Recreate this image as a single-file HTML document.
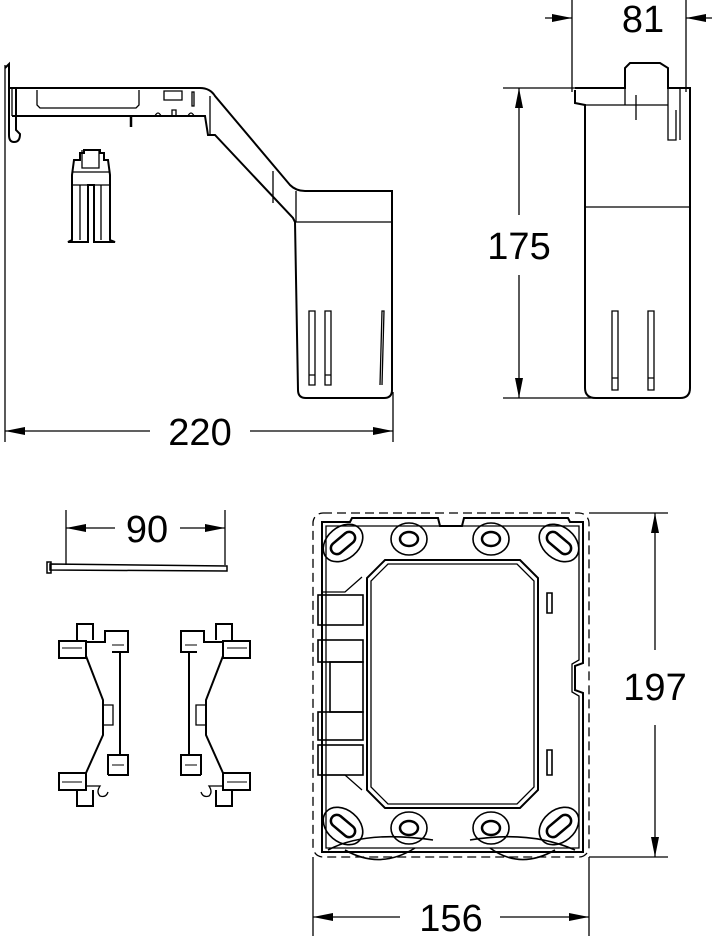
<!DOCTYPE html>
<html><head><meta charset="utf-8"><style>
html,body{margin:0;padding:0;background:#fff;}
svg{display:block}
text{font-family:"Liberation Sans",sans-serif;fill:#000}
</style></head><body>
<svg width="720" height="936" viewBox="0 0 720 936" xmlns="http://www.w3.org/2000/svg">
<defs>
<marker id="a" viewBox="0 0 20 8" refX="20" refY="4" markerWidth="20" markerHeight="8" markerUnits="userSpaceOnUse" orient="auto"><path d="M0,0 L20,4 L0,8 Z" fill="#000"/></marker>
</defs>
<g fill="none" stroke="#000" stroke-width="1.3">
<line x1="5" y1="65" x2="5" y2="442"/>
<line x1="393" y1="392" x2="393" y2="442"/>
<path d="M5,68 L9,64 L9,135 Q9,142 14,142 Q20,142 20,134 L16,130 L16,87" stroke-width="2"/>
<path d="M12,87 L12,116"/>
<path d="M10,88 L200,88 Q210,88 215,96 L290,185 Q296,191 305,191 L392,191 L392,390 Q392,398 384,398 L306,398 Q298,398 298,390 L295,222 L293,218 L215,135 L208,135 L205,116 L12,116" stroke-width="2"/>
<path d="M296,191 L296,222 L392,222"/>
<path d="M273,171 L273,203"/>
<path d="M210,96 L210,135"/>
<path d="M37,90 L37,105 L40,108 L136,108 L139,105 L139,90"/>
<path d="M164,91 L182,91 L182,100 L164,100 Z"/>
<path d="M131,116 L131,127" stroke-width="2.5"/>
<path d="M155,116 Q158,110 161,116 M172,116 L172,110 L176,110 L176,116 M188,116 Q191,110 194,116"/>
<rect x="192" y="92" width="2" height="14"/>
<path d="M309,385 L309,311 L315,311 L315,385 Z M325,385 L325,311 L331,311 L331,385 Z M380,385 L382,311 L384,311 L382,385"/>
<path d="M309,375 L315,375 M325,375 L331,375"/>
<!-- small part -->
<path d="M68,242 L72,240 L72,175 L74,160 L80,160 L80,153 L84,153 L84,150 L100,150 L100,153 L104,153 L104,160 L108,160 L110,175 L110,240 L115,242 L94,242 L94,185 L88,185 L88,242 Z" stroke-width="2"/>
<path d="M73,172 L109,172 M80,185 L80,240 M101,185 L101,240 M82,150 L82,168 L99,168 L99,150 M73,185 L109,185"/>
<line x1="150" y1="431" x2="5" y2="431" marker-end="url(#a)"/>
<line x1="250" y1="431" x2="393" y2="431" marker-end="url(#a)"/>

<line x1="572" y1="0" x2="572" y2="92"/>
<line x1="686" y1="0" x2="686" y2="92"/>
<line x1="545" y1="18" x2="572" y2="18" marker-end="url(#a)"/>
<line x1="712" y1="18" x2="686" y2="18" marker-end="url(#a)"/>
<line x1="503" y1="88" x2="575" y2="88"/>
<line x1="503" y1="398" x2="600" y2="398"/>
<line x1="519" y1="215" x2="519" y2="88" marker-end="url(#a)"/>
<line x1="519" y1="275" x2="519" y2="398" marker-end="url(#a)"/>
<path d="M575,90 L575,103 L585,105 L585,388 Q585,398 596,398 L680,398 Q690,398 690,388 L690,105 L690,88 L668,88 L668,68 L660,63 L630,63 L625,68 L625,88 L575,88" stroke-width="2"/>
<path d="M585,105 L668,105 M585,207 L690,207 M625,88 L625,105 M668,88 L668,140 L676,140 L676,110 M636,95 L636,120 M680,88 L680,140"/>
<path d="M612,390 L612,311 L618,311 L618,390 Z M648,390 L648,311 L654,311 L654,390 Z M612,378 L618,378 M648,378 L654,378"/>

<line x1="66" y1="510" x2="66" y2="565"/>
<line x1="225" y1="510" x2="225" y2="565"/>
<line x1="115" y1="528" x2="66" y2="528" marker-end="url(#a)"/>
<line x1="180" y1="528" x2="225" y2="528" marker-end="url(#a)"/>
<path d="M50,564 L227,566 L227,571 L50,570 Z" stroke-width="1.5"/>
<rect x="47" y="562" width="4" height="11" stroke-width="1.5"/>

<g id="clip" stroke-width="2">
<path d="M77,640 L77,624 L93,624 L93,640"/>
<rect x="59" y="641" width="27" height="17"/>
<path d="M86,642 L105,642 L105,631 L128,631 L128,652 L112,652"/>
<path d="M86,656 L103,700 L103,735 L86,773"/>
<path d="M120,652 L120,755"/>
<rect x="59" y="773" width="27" height="17"/>
<path d="M77,790 L77,806 L93,806 L93,790"/>
<path d="M108,775 L108,755 L128,755 L128,775 L108,775"/>
<path d="M86,786 L100,786 Q96,792 100,796 Q106,798 108,792" stroke-width="1.3"/>
<path d="M103,705 L113,705 L113,725 L103,725" stroke-width="1.3"/>
<path d="M112,645 L124,645 M112,765 L124,765 M62,648 L82,648 M62,782 L82,782" stroke-width="1"/>
</g>
<use href="#clip" transform="translate(309,0) scale(-1,1)"/>

<rect x="313" y="513" width="276" height="344" rx="10" stroke-dasharray="9,5"/>
<line x1="589" y1="513" x2="668" y2="513"/>
<line x1="589" y1="857" x2="668" y2="857"/>
<line x1="313" y1="857" x2="313" y2="936"/>
<line x1="589" y1="857" x2="589" y2="936"/>
<line x1="655" y1="650" x2="655" y2="513" marker-end="url(#a)"/>
<line x1="655" y1="725" x2="655" y2="857" marker-end="url(#a)"/>
<line x1="400" y1="917" x2="313" y2="917" marker-end="url(#a)"/>
<line x1="500" y1="917" x2="589" y2="917" marker-end="url(#a)"/>
<path d="M322,522 L350,522 L352,518 L438,518 L440,526 L462,526 L464,518 L568,518 L570,522 L583,522 L583,663 L575,666 L575,690 L583,693 L583,852 L322,852 Z" stroke-width="2"/>
<path d="M326,526 L579,526 L579,660 L572,664 L572,692 L579,696 L579,848 L326,848 Z"/>
<path d="M385,560 L520,560 L538,578 L538,790 L520,808 L385,808 L367,790 L367,578 Z" stroke-width="2"/>
<path d="M388,564 L517,564 L534,581 L534,787 L517,804 L388,804 L371,787 L371,581 Z"/>
<path d="M362,577 L345,592 L322,592 M362,790 L345,775 L322,775"/>
<g stroke-width="1.6">
<rect x="318" y="595" width="45" height="30"/>
<rect x="318" y="640" width="45" height="22"/>
<rect x="330" y="662" width="33" height="50"/>
<rect x="318" y="712" width="45" height="28"/>
<rect x="318" y="745" width="45" height="30"/>
<path d="M547,593 L547,613 L552,613 L552,593 Z M547,750 L547,775 L552,775 L552,750 Z"/>
</g>
<g stroke-width="1.6">
<g transform="translate(343,543) rotate(-40)"><ellipse rx="22" ry="16"/><rect x="-14" y="-6" width="28" height="12" rx="6" stroke-width="2.5"/></g>
<g transform="translate(559,543) rotate(40)"><ellipse rx="22" ry="16"/><rect x="-14" y="-6" width="28" height="12" rx="6" stroke-width="2.5"/></g>
<g transform="translate(343,826) rotate(40)"><ellipse rx="22" ry="16"/><rect x="-14" y="-6" width="28" height="12" rx="6" stroke-width="2.5"/></g>
<g transform="translate(559,826) rotate(-40)"><ellipse rx="22" ry="16"/><rect x="-14" y="-6" width="28" height="12" rx="6" stroke-width="2.5"/></g>
<g transform="translate(409,539)"><ellipse rx="18" ry="16"/><ellipse rx="9" ry="7" stroke-width="2.5"/></g>
<g transform="translate(491,539)"><ellipse rx="18" ry="16"/><ellipse rx="9" ry="7" stroke-width="2.5"/></g>
<g transform="translate(409,828)"><ellipse rx="18" ry="16"/><ellipse rx="9" ry="7" stroke-width="2.5"/></g>
<g transform="translate(491,828)"><ellipse rx="18" ry="16"/><ellipse rx="9" ry="7" stroke-width="2.5"/></g>
</g>
<path d="M328,850 Q365,830 433,840 M345,850 Q380,870 415,848 M470,840 Q530,830 575,850 M490,848 Q520,870 555,850" stroke-width="1.6"/>
</g>
<g font-size="38">
<rect x="150" y="410" width="100" height="42" fill="#fff"/>
<text x="200" y="445" text-anchor="middle">220</text>
<text x="643" y="32" text-anchor="middle">81</text>
<rect x="480" y="220" width="80" height="50" fill="#fff"/>
<text x="519" y="259" text-anchor="middle">175</text>
<text x="147" y="542" text-anchor="middle">90</text>
<rect x="610" y="660" width="90" height="50" fill="#fff"/>
<text x="655" y="700" text-anchor="middle">197</text>
<text x="451" y="931" text-anchor="middle">156</text>
</g>
</svg>
</body></html>
